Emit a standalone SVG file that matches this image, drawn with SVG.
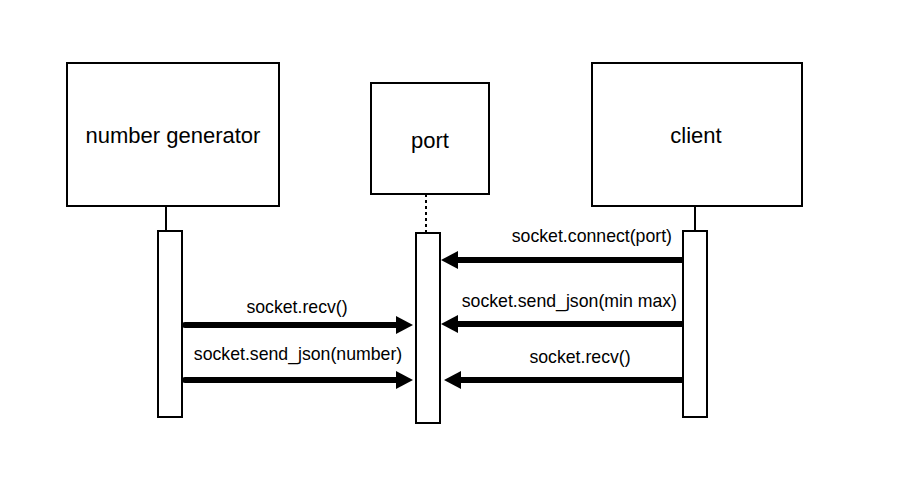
<svg xmlns="http://www.w3.org/2000/svg" width="914" height="494" viewBox="0 0 914 494">
<style>
.box{fill:#fff;stroke:#000;stroke-width:2}
.life{stroke:#000;stroke-width:2;fill:none}
.title{font-family:"Liberation Sans",Arial,sans-serif;font-size:22px;fill:#000;text-anchor:middle}
.lbl{font-family:"Liberation Sans",Arial,sans-serif;font-size:17.7px;fill:#000}
.msg{stroke:#000;stroke-width:6;fill:none}
</style>
<defs>
<marker id="ah" markerUnits="userSpaceOnUse" markerWidth="20" markerHeight="20" refX="1" refY="9" orient="auto" overflow="visible">
<path d="M0,0 L17,9 L0,18 Z" fill="#000"/>
</marker>
</defs>
<rect width="914" height="494" fill="#fff"/>
<g id="generator">
<rect class="box" x="67" y="63" width="212" height="143"/>
<text class="title" x="173" y="143">number generator</text>
<line class="life" x1="166" y1="206" x2="166" y2="231"/>
<rect class="box" x="158" y="231" width="24" height="186"/>
</g>
<g id="port">
<rect class="box" x="371" y="83" width="118" height="111"/>
<text class="title" x="430" y="148">port</text>
<line class="life" x1="426" y1="194" x2="426" y2="233" stroke-dasharray="3,3"/>
<rect class="box" x="416" y="233" width="24" height="190"/>
</g>
<g id="client">
<rect class="box" x="592" y="63" width="210" height="143"/>
<text class="title" x="696" y="143">client</text>
<line class="life" x1="695" y1="206" x2="695" y2="231"/>
<rect class="box" x="683" y="231" width="24" height="186"/>
</g>
<g id="connectors">
<line class="msg" x1="185" y1="325" x2="397" y2="325" marker-end="url(#ah)" stroke-linecap="round"/>
<line class="msg" x1="185" y1="380" x2="397" y2="380" marker-end="url(#ah)" stroke-linecap="round"/>
<line class="msg" x1="682" y1="260" x2="457" y2="260" marker-end="url(#ah)"/>
<line class="msg" x1="682" y1="324" x2="457" y2="324" marker-end="url(#ah)"/>
<line class="msg" x1="682" y1="380" x2="460" y2="380" marker-end="url(#ah)"/>
<text class="lbl" x="297" y="313" text-anchor="middle">socket.recv()</text>
<text class="lbl" x="298" y="360" text-anchor="middle">socket.send_json(number)</text>
<text class="lbl" x="672" y="242" text-anchor="end">socket.connect(port)</text>
<text class="lbl" x="677" y="307" text-anchor="end">socket.send_json(min max)</text>
<text class="lbl" x="580" y="363" text-anchor="middle">socket.recv()</text>
</g>
</svg>
